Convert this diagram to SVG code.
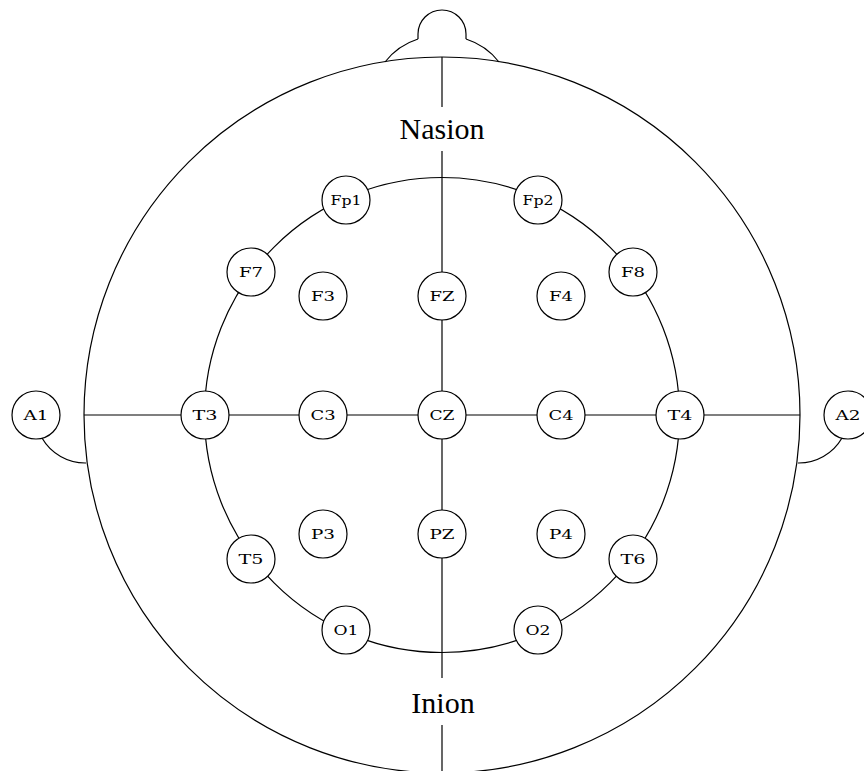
<svg xmlns="http://www.w3.org/2000/svg" width="864" height="771" viewBox="0 0 864 771">
<style>
.ln{fill:none;stroke:#000;stroke-width:1.2}
.nd circle{fill:#fff;stroke:#000;stroke-width:1.2}
.nd text{font-family:"DejaVu Serif","Liberation Serif",serif;font-size:13px;text-anchor:middle;fill:#000}
.big{font-family:"Liberation Serif","DejaVu Serif",serif;font-size:30px;text-anchor:middle;fill:#000}
</style>
<rect width="864" height="771" fill="#fff"/>
<g id="head">
<circle class="ln" cx="442" cy="415" r="358"/>
<path class="ln" d="M418,39 L418,34 A24,24 0 0 1 466,34 L466,39"/>
<path class="ln" d="M418,39 A68,68 0 0 0 385,62"/>
<path class="ln" d="M466,39 A68,68 0 0 1 499,62"/>
<path class="ln" d="M42,438 A50,50 0 0 0 86,463"/>
<path class="ln" d="M842,438 A50,50 0 0 1 798,463"/>
<circle class="ln" cx="442" cy="415" r="237.5"/>
</g>
<g id="connectors">
<line class="ln" x1="442" y1="57" x2="442" y2="107"/>
<line class="ln" x1="442" y1="151" x2="442" y2="678"/>
<line class="ln" x1="442" y1="725" x2="442" y2="771"/>
<line class="ln" x1="84" y1="415" x2="800" y2="415"/>
</g>
<g id="labels">
<text class="big" x="442" y="139">Nasion</text>
<text class="big" x="443" y="713">Inion</text>
</g>
<g id="Fp1" class="nd"><circle cx="346" cy="200" r="24"/><text x="346" y="205" textLength="31" lengthAdjust="spacingAndGlyphs">Fp1</text></g>
<g id="Fp2" class="nd"><circle cx="538" cy="200" r="24"/><text x="538" y="205" textLength="31" lengthAdjust="spacingAndGlyphs">Fp2</text></g>
<g id="F7" class="nd"><circle cx="251" cy="272" r="24"/><text x="251" y="277" textLength="24" lengthAdjust="spacingAndGlyphs">F7</text></g>
<g id="F3" class="nd"><circle cx="323" cy="296" r="24"/><text x="323" y="301" textLength="24" lengthAdjust="spacingAndGlyphs">F3</text></g>
<g id="FZ" class="nd"><circle cx="442" cy="296" r="24"/><text x="442" y="301" textLength="25" lengthAdjust="spacingAndGlyphs">FZ</text></g>
<g id="F4" class="nd"><circle cx="561" cy="296" r="24"/><text x="561" y="301" textLength="24" lengthAdjust="spacingAndGlyphs">F4</text></g>
<g id="F8" class="nd"><circle cx="633" cy="272" r="24"/><text x="633" y="277" textLength="24" lengthAdjust="spacingAndGlyphs">F8</text></g>
<g id="A1" class="nd"><circle cx="36" cy="415" r="24"/><text x="36" y="420" textLength="25" lengthAdjust="spacingAndGlyphs">A1</text></g>
<g id="T3" class="nd"><circle cx="205" cy="415" r="24"/><text x="205" y="420" textLength="25" lengthAdjust="spacingAndGlyphs">T3</text></g>
<g id="C3" class="nd"><circle cx="323" cy="415" r="24"/><text x="323" y="420" textLength="25" lengthAdjust="spacingAndGlyphs">C3</text></g>
<g id="CZ" class="nd"><circle cx="442" cy="415" r="24"/><text x="442" y="420" textLength="25" lengthAdjust="spacingAndGlyphs">CZ</text></g>
<g id="C4" class="nd"><circle cx="561" cy="415" r="24"/><text x="561" y="420" textLength="25" lengthAdjust="spacingAndGlyphs">C4</text></g>
<g id="T4" class="nd"><circle cx="680" cy="415" r="24"/><text x="680" y="420" textLength="25" lengthAdjust="spacingAndGlyphs">T4</text></g>
<g id="A2" class="nd"><circle cx="848" cy="415" r="24"/><text x="848" y="420" textLength="25" lengthAdjust="spacingAndGlyphs">A2</text></g>
<g id="T5" class="nd"><circle cx="251" cy="559" r="24"/><text x="251" y="564" textLength="25" lengthAdjust="spacingAndGlyphs">T5</text></g>
<g id="P3" class="nd"><circle cx="323" cy="534" r="24"/><text x="323" y="539" textLength="24" lengthAdjust="spacingAndGlyphs">P3</text></g>
<g id="PZ" class="nd"><circle cx="442" cy="534" r="24"/><text x="442" y="539" textLength="25" lengthAdjust="spacingAndGlyphs">PZ</text></g>
<g id="P4" class="nd"><circle cx="561" cy="534" r="24"/><text x="561" y="539" textLength="24" lengthAdjust="spacingAndGlyphs">P4</text></g>
<g id="T6" class="nd"><circle cx="633" cy="559" r="24"/><text x="633" y="564" textLength="25" lengthAdjust="spacingAndGlyphs">T6</text></g>
<g id="O1" class="nd"><circle cx="346" cy="630" r="24"/><text x="346" y="635" textLength="25" lengthAdjust="spacingAndGlyphs">O1</text></g>
<g id="O2" class="nd"><circle cx="538" cy="630" r="24"/><text x="538" y="635" textLength="25" lengthAdjust="spacingAndGlyphs">O2</text></g>
</svg>
